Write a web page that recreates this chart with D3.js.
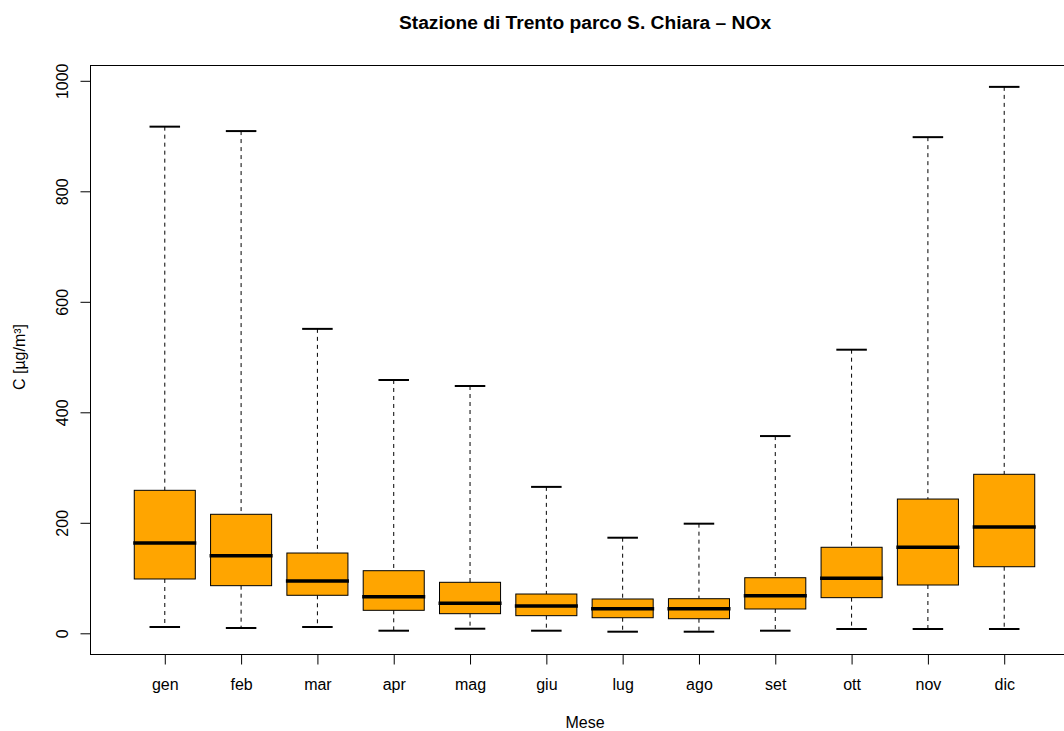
<!DOCTYPE html>
<html><head><meta charset="utf-8">
<script src="https://cdn.jsdelivr.net/npm/d3@7"></script>
<style>body{margin:0;background:#fff}svg{display:block;font-family:"Liberation Sans",Arial,sans-serif}</style>
</head><body>
<svg id="c" width="1064" height="731"></svg>
<script>
const months = ["gen","feb","mar","apr","mag","giu","lug","ago","set","ott","nov","dic"];
const whiskerLow  = [11.4, 9.6, 11.4, 4.7, 8.3, 4.7, 2.9, 2.9, 4.7, 7.8, 7.8, 7.8];
const q1          = [98.3, 86.2, 68.8, 41.6, 35.5, 31.9, 28.2, 26.4, 44.0, 64.5, 87.4, 120.5];
const median      = [163.4, 140.5, 94.7, 66.3, 54.3, 49.4, 44.5, 44.5, 68.0, 99.5, 155.7, 192.4];
const q3          = [258.8, 215.4, 145.3, 113.3, 92.3, 71.1, 62.1, 62.6, 100.6, 155.7, 243.0, 287.8];
const whiskerHigh = [917, 909, 551, 458.5, 447.6, 265, 173, 198.4, 357, 513.3, 898, 989];
const yTicks = [0, 200, 400, 600, 800, 1000];

const svg = d3.select("#c");
const L = 90, T = 65, B = 654;
const FONT = "Liberation Sans, Arial, sans-serif";
// R-style: x positions 1..12, xlim 0.5..12.5 extended 4%
const x = d3.scaleLinear().domain([0.02, 12.98]).range([L, 1079]);
const y = d3.scaleLinear().domain([0, 1000]).range([633.3, 80.8]);
const unit = x(2) - x(1);
const bw = unit * 0.8, sw = unit * 0.4;

const data = months.map((m, i) => ({m, i: i + 1, lo: whiskerLow[i], q1: q1[i], med: median[i], q3: q3[i], hi: whiskerHigh[i]}));

const g = svg.append("g");
// whiskers (dashed)
g.selectAll(".wu").data(data).join("line")
  .attr("x1", d => x(d.i)).attr("x2", d => x(d.i))
  .attr("y1", d => y(d.hi)).attr("y2", d => y(d.q3))
  .attr("stroke", "#000").attr("stroke-dasharray", "4,4");
g.selectAll(".wl").data(data).join("line")
  .attr("x1", d => x(d.i)).attr("x2", d => x(d.i))
  .attr("y1", d => y(d.q1)).attr("y2", d => y(d.lo))
  .attr("stroke", "#000").attr("stroke-dasharray", "4,4");
// staples
["hi", "lo"].forEach(k => {
  g.selectAll(".s" + k).data(data).join("line")
    .attr("x1", d => x(d.i) - sw / 2).attr("x2", d => x(d.i) + sw / 2)
    .attr("y1", d => y(d[k])).attr("y2", d => y(d[k]))
    .attr("stroke", "#000").attr("stroke-width", 2);
});
// boxes
g.selectAll("rect").data(data).join("rect")
  .attr("x", d => x(d.i) - bw / 2).attr("width", bw)
  .attr("y", d => y(d.q3)).attr("height", d => y(d.q1) - y(d.q3))
  .attr("fill", "#FFA500").attr("stroke", "#000").attr("stroke-width", 1);
// medians
g.selectAll(".med").data(data).join("line")
  .attr("x1", d => x(d.i) - bw / 2 - 1).attr("x2", d => x(d.i) + bw / 2 + 1)
  .attr("y1", d => y(d.med)).attr("y2", d => y(d.med))
  .attr("stroke", "#000").attr("stroke-width", 3.5);

// plot frame
svg.append("rect").attr("x", L + 0.5).attr("y", T + 0.5).attr("width", 1079 - L).attr("height", B - T)
  .attr("fill", "none").attr("stroke", "#000");

// y axis
const ya = svg.append("g").attr("transform", `translate(${L + 0.5},0)`)
  .call(d3.axisLeft(y).tickValues(yTicks).tickSize(10).tickFormat(d3.format("d")));
ya.select(".domain").remove();
ya.append("path").attr("d", `M0,${y(0)}V${y(1000)}`).attr("stroke", "#000");
ya.selectAll(".tick line").attr("stroke", "#000");
ya.selectAll(".tick text").attr("transform", "rotate(-90)")
  .attr("x", 0).attr("y", -22.5).attr("dy", 0).attr("text-anchor", "middle")
  .attr("font-size", 16).attr("fill", "#000").attr("font-family", FONT);

// x axis
const xa = svg.append("g").attr("transform", `translate(0,${B + 0.5})`)
  .call(d3.axisBottom(x).tickValues(d3.range(1, 13)).tickSize(10).tickFormat(d => months[d - 1]));
xa.select(".domain").remove();
xa.append("path").attr("d", `M${x(1)},0H${x(12)}`).attr("stroke", "#000");
xa.selectAll(".tick line").attr("stroke", "#000");
xa.selectAll(".tick text").attr("y", 35.5).attr("dy", 0).attr("font-size", 16).attr("fill", "#000")
  .attr("font-family", FONT);

// titles
svg.append("text").attr("x", 585).attr("y", 29).attr("text-anchor", "middle")
  .attr("font-weight", "bold").attr("font-size", 19.2).attr("font-family", FONT)
  .text("Stazione di Trento parco S. Chiara – NOx");
svg.append("text").attr("x", 585).attr("y", 728).attr("text-anchor", "middle")
  .attr("font-size", 16).attr("font-family", FONT).text("Mese");
svg.append("text").attr("transform", `translate(25,357) rotate(-90)`).attr("text-anchor", "middle")
  .attr("font-size", 16).attr("font-family", FONT).text("C [µg/m³]");
</script>
</body></html>
